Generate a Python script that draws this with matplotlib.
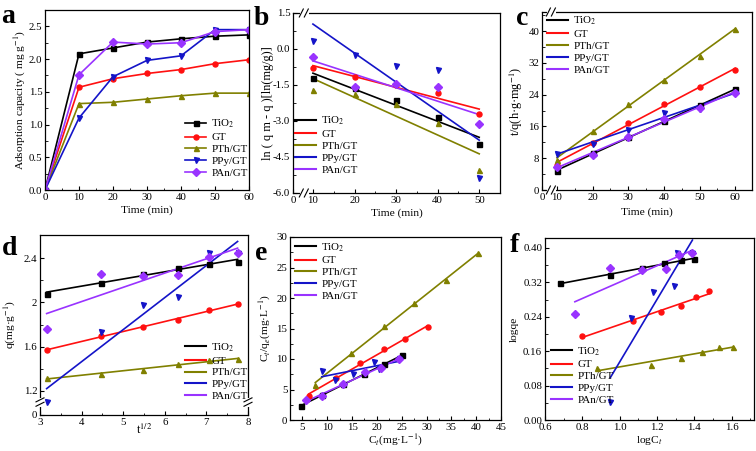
import numpy as np
import matplotlib
matplotlib.use('Agg')
import matplotlib.pyplot as plt
from matplotlib.ticker import FixedLocator, MultipleLocator, FormatStrFormatter
from matplotlib.lines import Line2D

plt.rcParams['font.family'] = ['Liberation Serif', 'DejaVu Serif']
plt.rcParams['mathtext.fontset'] = 'stix'
plt.rcParams['font.size'] = 8
plt.rcParams['xtick.direction'] = 'in'
plt.rcParams['ytick.direction'] = 'in'
plt.rcParams['xtick.major.size'] = 3
plt.rcParams['ytick.major.size'] = 3
plt.rcParams['xtick.minor.size'] = 1.8
plt.rcParams['ytick.minor.size'] = 1.8
plt.rcParams['axes.linewidth'] = 0.9

# ---------------- data ----------------
series = ['TiO$_2$', 'GT', 'PTh/GT', 'PPy/GT', 'PAn/GT']
colors = ['#000000', '#ff1010', '#808000', '#1414c8', '#9933ff']
markers = ['s', 'o', '^', 'v', 'D']

# (a) adsorption capacity vs time
time_a = [0, 10, 20, 30, 40, 50, 60]
qa_TiO2 = [0, 2.08, 2.17, 2.26, 2.31, 2.35, 2.37]
qa_GT = [0, 1.57, 1.70, 1.78, 1.84, 1.93, 1.99]
qa_PTh = [0, 1.32, 1.34, 1.39, 1.44, 1.48, 1.48]
qa_PPy = [0, 1.10, 1.73, 1.98, 2.05, 2.45, 2.45]
qa_PAn = [0, 1.76, 2.26, 2.23, 2.25, 2.42, 2.45]

# (b) pseudo-first-order
time_b = [10, 20, 30, 40, 50]
lnb_TiO2 = [-1.20, -1.62, -2.14, -2.82, -3.94]
lnb_GT = [-0.78, -1.17, -1.50, -1.82, -2.72]
lnb_PTh = [-1.71, -1.89, -2.28, -3.09, -5.03]
lnb_PPy = [0.35, -0.27, -0.71, -0.88, -5.39]
lnb_PAn = [-0.33, -1.58, -1.45, -1.58, -3.13]

# (c) pseudo-second-order t/q
time_c = [10, 20, 30, 40, 50, 60]
tq_TiO2 = [4.8, 9.2, 13.3, 17.3, 21.3, 25.3]
tq_GT = [6.4, 11.8, 16.9, 21.7, 25.9, 30.1]
tq_PTh = [7.6, 14.9, 21.6, 27.8, 33.8, 40.5]
tq_PPy = [9.1, 11.6, 15.2, 19.5, 20.4, 24.5]
tq_PAn = [5.7, 8.9, 13.4, 17.8, 20.7, 24.5]

# (d) intraparticle diffusion
sqrt_t = [3.16, 4.47, 5.48, 6.32, 7.07, 7.75]
qd_TiO2 = [2.08, 2.18, 2.26, 2.31, 2.35, 2.37]
qd_GT = [1.57, 1.70, 1.78, 1.84, 1.93, 1.99]
qd_PTh = [1.32, 1.35, 1.39, 1.44, 1.48, 1.49]
qd_PPy = [1.10, 1.73, 1.98, 2.05, 2.45, 2.45]
qd_PAn = [1.76, 2.26, 2.24, 2.25, 2.41, 2.45]

# (e) Langmuir Ct/qe vs Ct
ct_TiO2 = [4.8, 8.9, 13.2, 17.4, 21.4, 25.1]
ctq_TiO2 = [2.31, 4.10, 5.84, 7.53, 9.11, 10.6]
ct_GT = [6.3, 11.7, 16.6, 21.4, 25.7, 30.2]
ctq_GT = [4.0, 6.9, 9.3, 11.6, 13.3, 15.2]
ct_PTh = [7.6, 14.8, 21.4, 27.5, 33.9, 40.4]
ctq_PTh = [5.8, 11.0, 15.4, 19.1, 22.9, 27.3]
ct_PPy = [8.9, 11.5, 15.1, 19.5, 20.4, 24.5]
ctq_PPy = [8.1, 6.6, 7.6, 9.5, 8.3, 10.0]
ct_PAn = [5.7, 8.9, 13.2, 17.6, 20.9, 24.5]
ctq_PAn = [3.2, 3.9, 5.9, 7.8, 8.6, 10.0]

# (f) Freundlich log qe vs log Ct
lc_TiO2 = [0.68, 0.95, 1.12, 1.24, 1.33, 1.40]
lq_TiO2 = [0.318, 0.336, 0.354, 0.364, 0.371, 0.375]
lc_GT = [0.80, 1.07, 1.22, 1.33, 1.41, 1.48]
lq_GT = [0.196, 0.230, 0.250, 0.265, 0.286, 0.299]
lc_PTh = [0.88, 1.17, 1.33, 1.44, 1.53, 1.61]
lq_PTh = [0.121, 0.127, 0.143, 0.158, 0.170, 0.170]
lc_PPy = [0.95, 1.06, 1.18, 1.29, 1.31, 1.39]
lq_PPy = [0.041, 0.238, 0.297, 0.312, 0.389, 0.389]
lc_PAn = [0.76, 0.95, 1.12, 1.25, 1.32, 1.39]
lq_PAn = [0.246, 0.354, 0.348, 0.352, 0.384, 0.389]

# ---------------- figure ----------------
W, H = 756, 451
fig = plt.figure(figsize=(W / 100, H / 100), dpi=100)


def make_ax(l, r, t, b):
    return fig.add_axes([l / W, 1 - b / H, (r - l) / W, (b - t) / H])


axa = make_ax(45, 249, 10, 190)
axb = make_ax(293, 500, 13, 193)
axc = make_ax(542, 752, 12, 190)
axd = make_ax(40, 248, 235, 415)
axe = make_ax(290, 501, 237, 420)
axf = make_ax(545, 754, 238, 420)

LW = 1.2
MS = 3.6
TICK_FS = 7.8
LAB_FS = 8.2
LEG_FS = 7.9


def fitline(ax, x, y, c):
    p = np.polyfit(x, y, 1)
    xs = np.array([min(x), max(x)])
    ax.plot(xs, np.polyval(p, xs), color=c, lw=LW, zorder=2)


def scatter(ax, x, y, c, m):
    ax.plot(x, y, ls='none', marker=m, color=c, ms=MS, zorder=3)


def legend(ax, x, y, with_marker=False, spacing=0.2):
    hs = []
    for c, m in zip(colors, markers):
        if with_marker:
            hs.append(Line2D([], [], color=c, lw=LW, marker=m, ms=MS))
        else:
            hs.append(Line2D([], [], color=c, lw=1.5))
    ax.legend(hs, series, loc='upper left', bbox_to_anchor=(x, y), frameon=False,
              borderpad=0, borderaxespad=0, handlelength=1.95, handletextpad=0.45,
              labelspacing=spacing, fontsize=LEG_FS)


def brk_h(ax, xfrac, yfrac):
    # slashes across a horizontal spine
    pos = ax.get_position()
    X = (pos.x0 + xfrac * pos.width) * W
    Y = (pos.y0 + yfrac * pos.height) * H
    fig.add_artist(Line2D([(X - 3) / W, (X + 3) / W], [Y / H, Y / H], color='white', lw=2.2,
                          transform=fig.transFigure))
    for off in (-2.5, 2.5):
        fig.add_artist(Line2D([(X + off - 2) / W, (X + off + 2) / W], [(Y - 4) / H, (Y + 4) / H],
                              color='black', lw=0.8, transform=fig.transFigure))


def brk_v(ax, xfrac, yfrac):
    pos = ax.get_position()
    X = (pos.x0 + xfrac * pos.width) * W
    Y = (pos.y0 + yfrac * pos.height) * H
    fig.add_artist(Line2D([X / W, X / W], [(Y - 3) / H, (Y + 3) / H], color='white', lw=2.2,
                          transform=fig.transFigure))
    for off in (-2.2, 2.2):
        fig.add_artist(Line2D([(X - 4) / W, (X + 4) / W], [(Y + off - 2) / H, (Y + off + 2) / H],
                              color='black', lw=0.8, transform=fig.transFigure))


def letter(s, x, y):
    fig.text(x / W, 1 - y / H, s, fontsize=20, fontweight='bold', ha='left', va='baseline')


# (a)
for y, c, m in zip([qa_TiO2, qa_GT, qa_PTh, qa_PPy, qa_PAn], colors, markers):
    axa.plot(time_a, y, color=c, marker=m, ms=MS, lw=LW)
axa.set_xlim(0, 60)
axa.set_ylim(0, 2.75)
axa.xaxis.set_major_locator(MultipleLocator(10))
axa.xaxis.set_minor_locator(MultipleLocator(5))
axa.yaxis.set_major_locator(MultipleLocator(0.5))
axa.yaxis.set_minor_locator(MultipleLocator(0.25))
axa.yaxis.set_major_formatter(FormatStrFormatter('%.1f'))
axa.set_xlabel('Time (min)', fontsize=LAB_FS)
axa.set_ylabel('Adsorption capacity ( mg g$^{-1}$)', fontsize=LAB_FS)
legend(axa, 0.686, 0.40, with_marker=True)

# (b)
b_x0 = 5.2
for y, c, m in zip([lnb_TiO2, lnb_GT, lnb_PTh, lnb_PPy, lnb_PAn], colors, markers):
    scatter(axb, time_b, y, c, m)
    fitline(axb, time_b, y, c)
axb.set_xlim(b_x0, 55)
axb.set_ylim(-6.0, 1.5)
axb.xaxis.set_major_locator(FixedLocator([b_x0, 10, 20, 30, 40, 50]))
axb.set_xticklabels(['0', '10', '20', '30', '40', '50'])
axb.xaxis.set_minor_locator(FixedLocator([15, 25, 35, 45]))
axb.yaxis.set_major_locator(MultipleLocator(1.5))
axb.yaxis.set_minor_locator(MultipleLocator(0.75))
axb.yaxis.set_major_formatter(FormatStrFormatter('%.1f'))
axb.set_xlabel('Time (min)', fontsize=LAB_FS)
axb.set_ylabel('ln ( q m - q )[ln(mg/g)]', fontsize=8.8)
legend(axb, 0.01, 0.435)

# (c)
c_x0 = 5.8
for y, c, m in zip([tq_TiO2, tq_GT, tq_PTh, tq_PPy, tq_PAn], colors, markers):
    scatter(axc, time_c, y, c, m)
    fitline(axc, time_c, y, c)
axc.set_xlim(c_x0, 64.7)
axc.set_ylim(0, 44.8)
axc.xaxis.set_major_locator(FixedLocator([c_x0, 10, 20, 30, 40, 50, 60]))
axc.set_xticklabels(['0', '10', '20', '30', '40', '50', '60'])
axc.xaxis.set_minor_locator(FixedLocator([15, 25, 35, 45, 55]))
axc.yaxis.set_major_locator(MultipleLocator(8))
axc.yaxis.set_minor_locator(MultipleLocator(4))
axc.set_xlabel('Time (min)', fontsize=LAB_FS)
axc.set_ylabel('t/q(h·g·mg$^{-1}$)', fontsize=8.8)
legend(axc, 0.024, 0.985)

# (d)
d_y0 = 0.983
for y, c, m in zip([qd_TiO2, qd_GT, qd_PTh, qd_PPy, qd_PAn], colors, markers):
    scatter(axd, sqrt_t, y, c, m)
    fitline(axd, sqrt_t, y, c)
axd.set_xlim(3, 8)
axd.set_ylim(d_y0, 2.61)
axd.xaxis.set_major_locator(MultipleLocator(1))
axd.xaxis.set_minor_locator(MultipleLocator(0.5))
axd.yaxis.set_major_locator(FixedLocator([d_y0, 1.2, 1.6, 2.0, 2.4]))
axd.set_yticklabels(['0', '1.2', '1.6', '2', '2.4'])
axd.yaxis.set_minor_locator(FixedLocator([1.4, 1.8, 2.2]))
axd.set_xlabel('t$^{1/2}$', fontsize=LAB_FS + 0.6)
axd.set_ylabel('q(mg·g$^{-1}$)', fontsize=LAB_FS)
legend(axd, 0.697, 0.41)

# (e)
for x, y, c, m in zip([ct_TiO2, ct_GT, ct_PTh, ct_PPy, ct_PAn],
                      [ctq_TiO2, ctq_GT, ctq_PTh, ctq_PPy, ctq_PAn], colors, markers):
    scatter(axe, x, y, c, m)
    fitline(axe, x, y, c)
axe.set_xlim(2.5, 45)
axe.set_ylim(0, 30)
axe.xaxis.set_major_locator(MultipleLocator(5))
axe.xaxis.set_minor_locator(MultipleLocator(2.5))
axe.yaxis.set_major_locator(MultipleLocator(5))
axe.yaxis.set_minor_locator(MultipleLocator(2.5))
axe.set_xlabel('C$_t$(mg·L$^{-1}$)', fontsize=LAB_FS)
axe.set_ylabel('C$_t$/q$_e$(mg·L$^{-1}$)', fontsize=LAB_FS)
legend(axe, 0.024, 0.978)

# (f)
for x, y, c, m in zip([lc_TiO2, lc_GT, lc_PTh, lc_PPy, lc_PAn],
                      [lq_TiO2, lq_GT, lq_PTh, lq_PPy, lq_PAn], colors, markers):
    scatter(axf, x, y, c, m)
    fitline(axf, x, y, c)
axf.set_xlim(0.6, 1.72)
axf.set_ylim(0, 0.423)
axf.xaxis.set_major_locator(MultipleLocator(0.2))
axf.xaxis.set_minor_locator(MultipleLocator(0.1))
axf.xaxis.set_major_formatter(FormatStrFormatter('%.1f'))
axf.yaxis.set_major_locator(MultipleLocator(0.08))
axf.yaxis.set_minor_locator(MultipleLocator(0.04))
axf.yaxis.set_major_formatter(FormatStrFormatter('%.2f'))
axf.set_xlabel('logC$_t$', fontsize=LAB_FS)
axf.set_ylabel('logqe', fontsize=LAB_FS)
legend(axf, 0.029, 0.412)

for ax in (axa, axb, axc, axd, axe, axf):
    ax.tick_params(labelsize=TICK_FS, pad=2.0, which='both', top=False, right=False)

# label positions (ylabel anchor = right edge, xlabel anchor = top)
axa.yaxis.set_label_coords(-0.085, 0.5)
axb.yaxis.set_label_coords(-0.092, 0.5)
axc.yaxis.set_label_coords(-0.08, 0.5)
axd.yaxis.set_label_coords(-0.105, 0.5)
axe.yaxis.set_label_coords(-0.08, 0.5)
axf.yaxis.set_label_coords(-0.125, 0.5)
axa.xaxis.set_label_coords(0.5, -0.083)
axb.xaxis.set_label_coords(0.5, -0.083)
axc.xaxis.set_label_coords(0.5, -0.10)
axd.xaxis.set_label_coords(0.5, -0.045)
axe.xaxis.set_label_coords(0.5, -0.068)
axf.xaxis.set_label_coords(0.5, -0.075)

# axis break marks
fb = (7.8 - b_x0) / (55 - b_x0)
brk_h(axb, fb, 0)
brk_h(axb, fb, 1)
fc = (8.3 - c_x0) / (64.7 - c_x0)
brk_h(axc, fc, 0)
brk_h(axc, fc, 1)
fd = (1.1 - d_y0) / (2.61 - d_y0)
brk_v(axd, 0, fd)
brk_v(axd, 1, fd)

letter('a', 1, 23)
letter('b', 254, 25)
letter('c', 516, 25)
letter('d', 2, 255)
letter('e', 255, 260)
letter('f', 510, 252)

fig.savefig('out.png', dpi=100)
